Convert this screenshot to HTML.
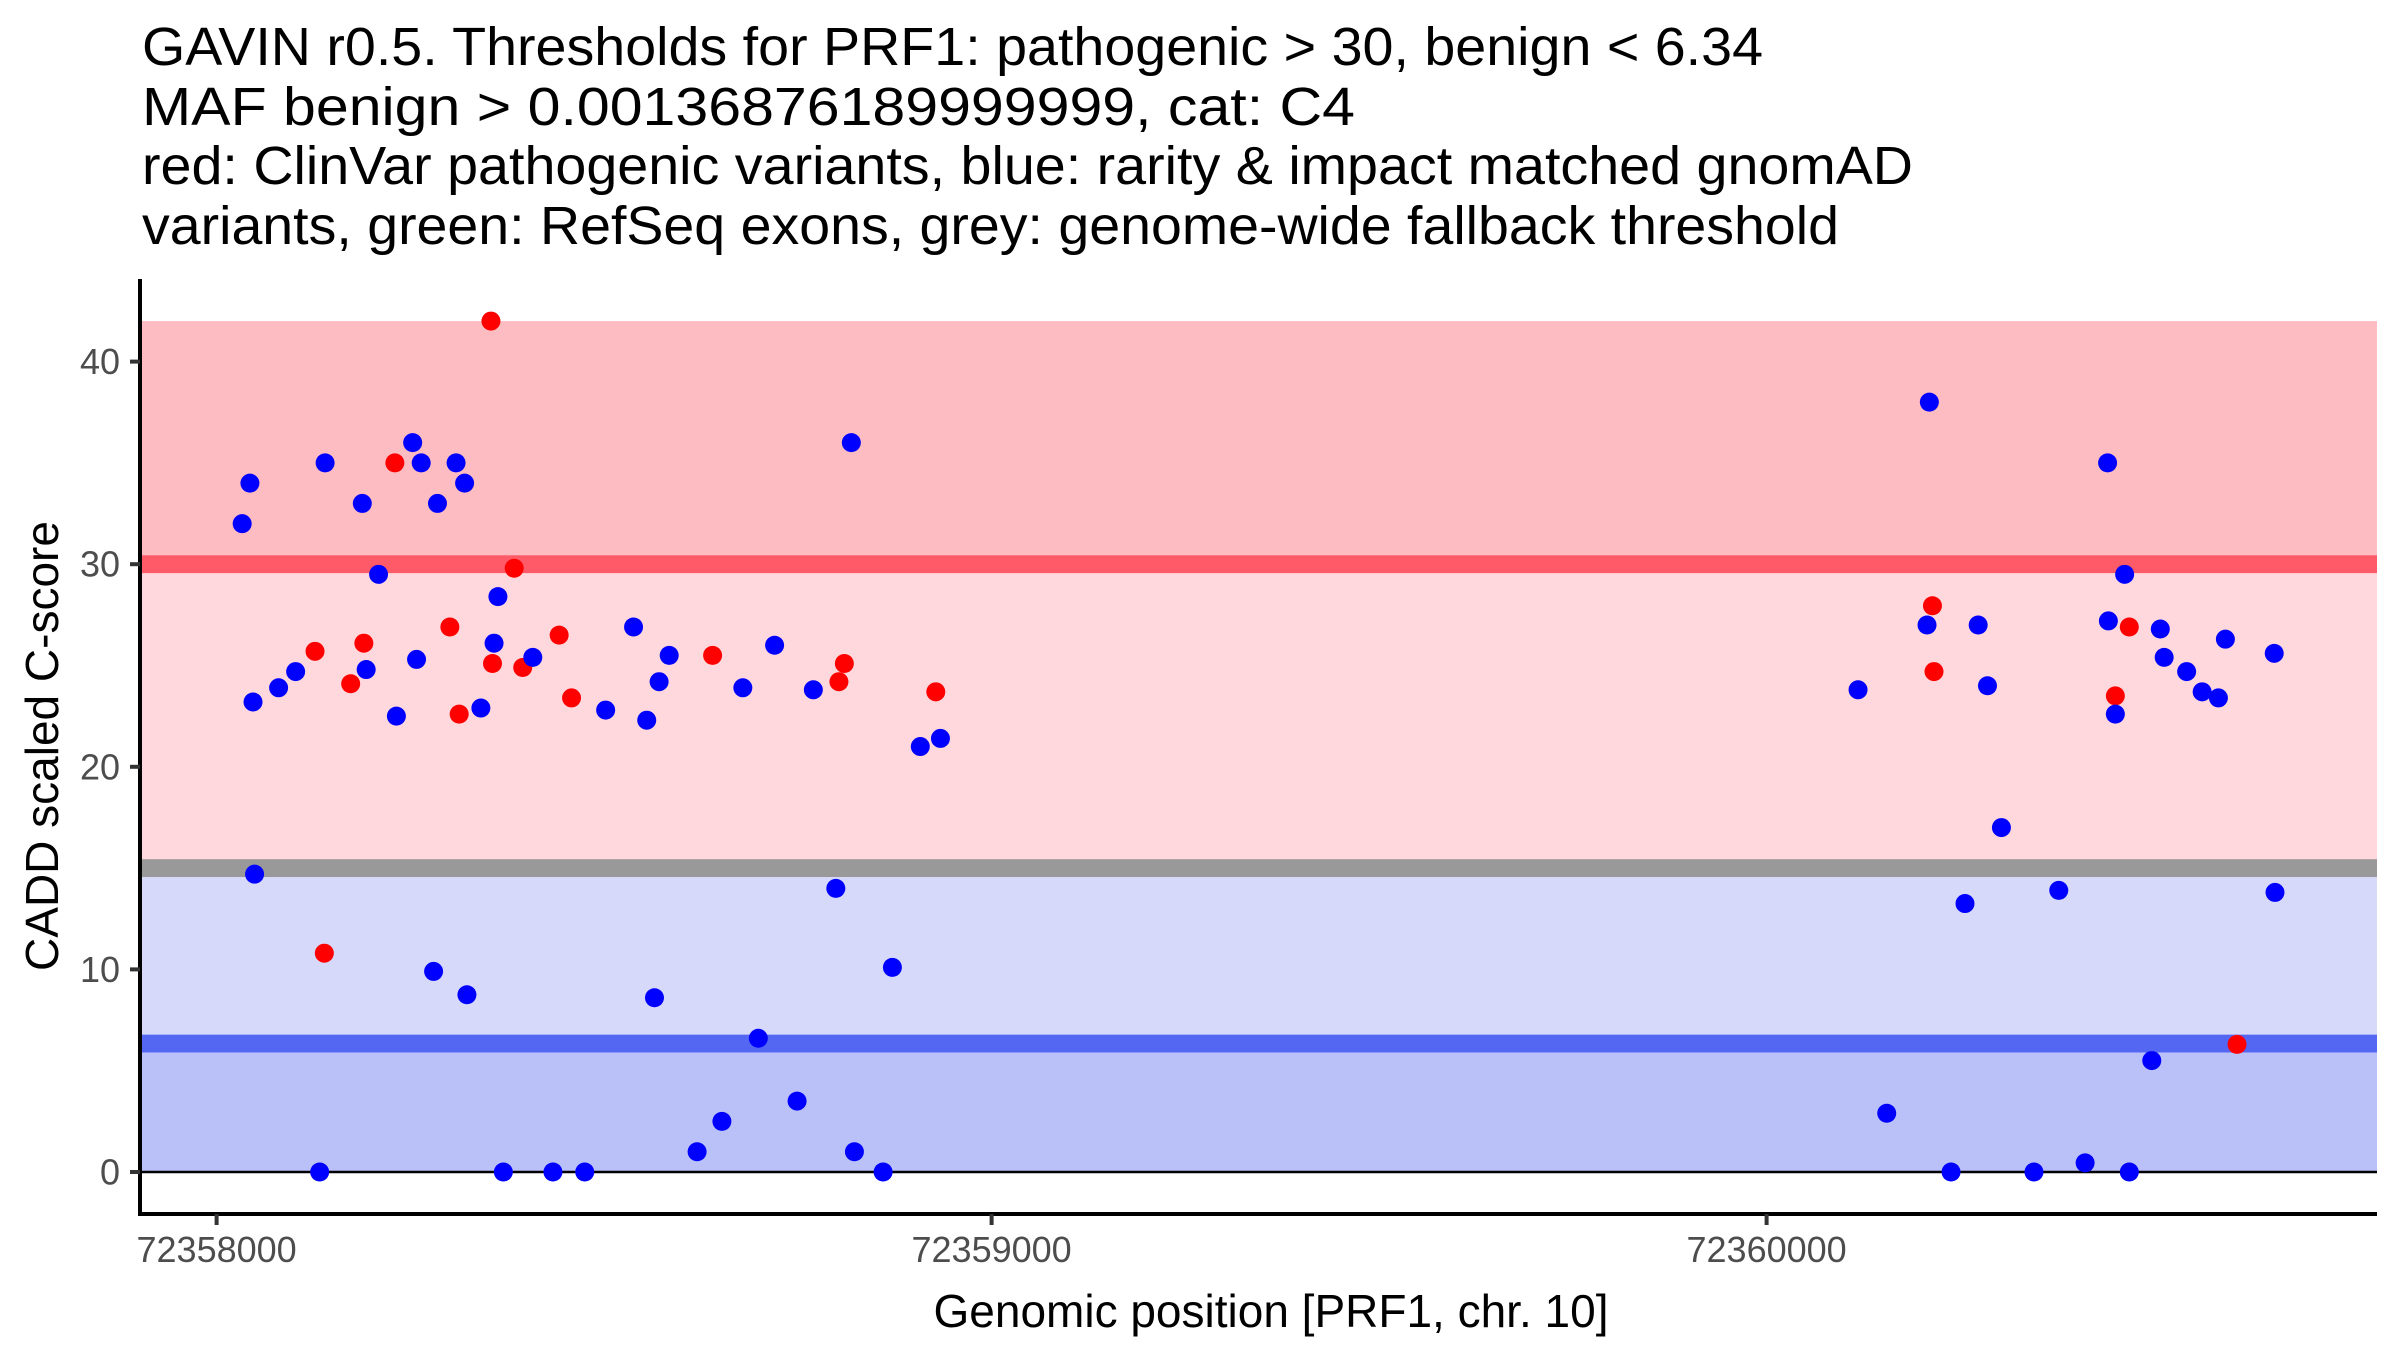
<!DOCTYPE html>
<html><head><meta charset="utf-8"><style>
html,body{margin:0;padding:0;background:#fff;}
svg{display:block;font-family:"Liberation Sans",Arial,sans-serif;}
</style></head><body>
<svg id="chart" width="2400" height="1350" viewBox="0 0 2400 1350">
  <g font-size="54" fill="#000">
    <text x="142" y="65" textLength="1621" lengthAdjust="spacingAndGlyphs">GAVIN r0.5. Thresholds for PRF1: pathogenic &gt; 30, benign &lt; 6.34</text>
    <text x="142" y="125" textLength="1213" lengthAdjust="spacingAndGlyphs">MAF benign &gt; 0.00136876189999999, cat: C4</text>
    <text x="142" y="184" textLength="1771" lengthAdjust="spacingAndGlyphs">red: ClinVar pathogenic variants, blue: rarity &amp; impact matched gnomAD</text>
    <text x="142" y="244" textLength="1697" lengthAdjust="spacingAndGlyphs">variants, green: RefSeq exons, grey: genome-wide fallback threshold</text>
  </g>
  <g id="bands"></g>
  <g id="points"></g>
  <g id="axes"></g>
  <text x="1271" y="1327" text-anchor="middle" font-size="46" fill="#000">Genomic position [PRF1, chr. 10]</text>
  <text transform="translate(58,746) rotate(-90)" text-anchor="middle" font-size="46" fill="#000">CADD scaled C-score</text>
</svg>
<script>
const xOffsets = [33,43,47,49,80,102,127,140,139,133,173,188,190,193,209,230,232,253,258,264,280,285,301,309,313,320,323,341,354,356,358,363,370,384,395,408,434,442,458,475,502,538,555,565,571,584,620,640,652,679,699,720,749,770,799,803,810,819,823,860,872,908,928,934,
2118,2155,2210,2207,2214,2216,2238,2256,2273,2285,2303,2345,2377,2411,2440,2441,2450,2450,2462,2468,2468,2497,2508,2513,2542,2562,2583,2592,2607,2655,2656];
const scores = [32,34,23.2,14.7,23.9,24.7,25.7,35,10.8,0,24.1,33,26.1,24.8,29.5,35,22.5,36,25.3,35,9.9,33,26.9,35,22.6,34,8.75,22.9,42,25.1,26.1,28.4,0,29.8,24.9,25.4,0,26.5,23.4,0,22.8,26.9,22.3,8.6,24.2,25.5,1,25.5,2.5,23.9,6.6,26,3.5,23.8,14,24.2,25.1,36,1,0,10.1,21,23.7,21.4,
23.8,2.9,38,27,27.95,24.7,0,13.25,27,24,17,0,13.9,0.45,35,27.2,23.5,22.6,29.5,26.9,0,5.5,26.8,25.4,24.7,23.7,23.4,26.3,6.3,25.6,13.8];
const groups = ['b','b','b','b','b','b','r','b','r','b','r','b','r','b','b','r','b','b','b','b','b','b','r','b','r','b','b','b','r','r','b','b','b','r','r','b','b','r','r','b','b','b','b','b','b','b','b','r','b','b','b','b','b','b','b','r','r','b','b','b','b','b','r','b',
'b','b','b','b','r','r','b','b','b','b','b','b','b','b','b','b','r','b','b','r','b','b','b','b','b','b','b','b','r','b','b'];
const thresholds = [42, 30, 15, 6.34];
const xTicks = [72358000, 72359000, 72360000];
const yTicks = [0, 10, 20, 30, 40];
const xStart = 72358000;

const NS = 'http://www.w3.org/2000/svg';
const L = 140, R = 2377, T = 279, B = 1214;
function xs(off){ return 216.6 + off*0.775; }
function ys(v){ return 1172 - v*20.26; }
function mk(tag, attrs, parent){ const e=document.createElementNS(NS,tag); for(const k in attrs) e.setAttribute(k,attrs[k]); parent.appendChild(e); return e; }

const bands = document.getElementById('bands');
const hw = 0.44;
let e;
e = mk('rect',{x:L,y:ys(thresholds[0]),width:R-L,height:ys(thresholds[1])-ys(thresholds[0]),fill:'#FDBCC1'},bands);


e = mk('rect',{x:L,y:ys(thresholds[1]),width:R-L,height:ys(thresholds[2])-ys(thresholds[1]),fill:'#FED8DC'},bands);


e = mk('rect',{x:L,y:ys(thresholds[2]),width:R-L,height:ys(thresholds[3])-ys(thresholds[2]),fill:'#D7D9FB'},bands);


e = mk('rect',{x:L,y:ys(thresholds[3]),width:R-L,height:ys(0)-ys(thresholds[3]),fill:'#BAC0F8'},bands);


e = mk('rect',{x:L,y:ys(thresholds[1]+hw),width:R-L,height:hw*2*20.26,fill:'#FF5A68'},bands);


e = mk('rect',{x:L,y:ys(thresholds[2]+hw),width:R-L,height:hw*2*20.26,fill:'#999999'},bands);


e = mk('rect',{x:L,y:ys(thresholds[3]+hw),width:R-L,height:hw*2*20.26,fill:'#5467F2'},bands);


e = mk('line',{x1:L,x2:R,y1:ys(0),y2:ys(0),stroke:'#000','stroke-width':2.5},bands);



const pts = document.getElementById('points');
for (let i=0;i<scores.length;i++){
  const c = mk('circle',{cx:xs(xOffsets[i]),cy:ys(scores[i]),r:9.5,fill:groups[i]==='r'?'#FF0000':'#0000FF'},pts);
  
  
}

const ax = document.getElementById('axes');
e = mk('path',{d:`M${L} ${T} V${B} H${R}`,stroke:'#000','stroke-width':4,fill:'none'},ax);


for (const v of yTicks){
  e = mk('line',{x1:L-10,x2:L,y1:ys(v),y2:ys(v),stroke:'#333','stroke-width':4},ax);
  
  
  const t = mk('text',{x:L-20,y:ys(v)+12.5,'text-anchor':'end','font-size':36,fill:'#4D4D4D'},ax);
  t.textContent = String(v);
  
  
}
for (const v of xTicks){
  const x = xs(v - xStart);
  e = mk('line',{x1:x,x2:x,y1:B,y2:B+11,stroke:'#333','stroke-width':4},ax);
  
  
  const t = mk('text',{x:x,y:1262,'text-anchor':'middle','font-size':36,fill:'#4D4D4D'},ax);
  t.textContent = String(v);
  
  
}
</script>
</body></html>
